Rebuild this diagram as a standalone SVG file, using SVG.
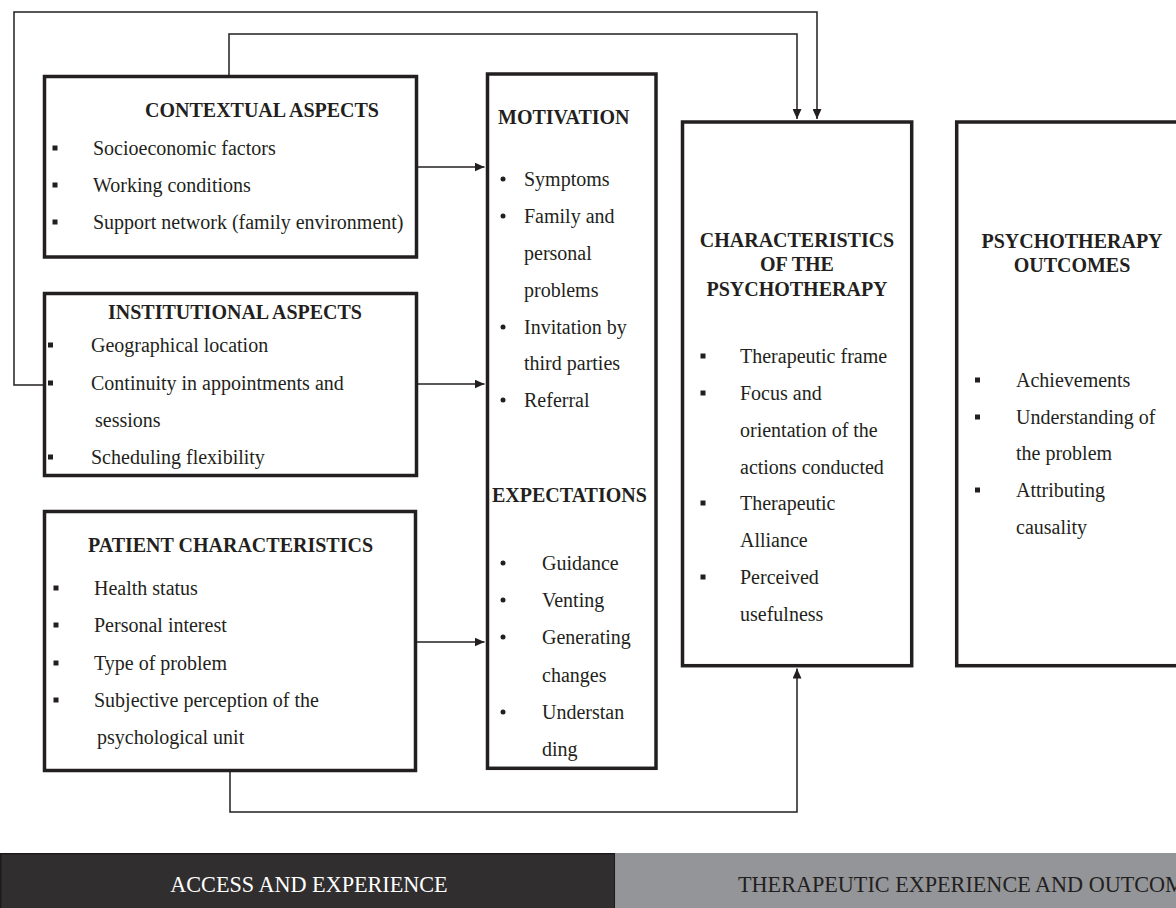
<svg xmlns="http://www.w3.org/2000/svg" width="1176" height="908" viewBox="0 0 1176 908">
<defs>
<marker id="arr" markerUnits="userSpaceOnUse" markerWidth="11" markerHeight="9" refX="10" refY="4.5" orient="auto">
<path d="M0,0 L10,4.5 L0,9 z" fill="#231f20"/>
</marker>
<style>
.box{fill:#fff;stroke:#231f20;stroke-width:3.5}
.t{font-family:"Liberation Serif","Times New Roman",serif;font-size:20px;fill:#231f20}
.h{font-family:"Liberation Serif","Times New Roman",serif;font-size:20px;font-weight:bold;fill:#231f20}
.c{text-anchor:middle}
.sq{fill:#231f20}
.dot{fill:#231f20}
.ln{fill:none;stroke:#231f20;stroke-width:1.5}
.band{font-family:"Liberation Serif","Times New Roman",serif;font-size:22.2px}
</style>
</defs>
<rect width="1176" height="908" fill="#fff"/>

<g id="connectors">
<path class="ln" d="M44,385 H14 V12 H817 V119" marker-end="url(#arr)"/>
<path class="ln" d="M229,76 V34 H797 V119" marker-end="url(#arr)"/>
<path class="ln" d="M418,167 H484.5" marker-end="url(#arr)"/>
<path class="ln" d="M418,384 H484.5" marker-end="url(#arr)"/>
<path class="ln" d="M417,642 H484.5" marker-end="url(#arr)"/>
<path class="ln" d="M230,772 V812 H797 V668.5" marker-end="url(#arr)"/>
</g>

<g id="contextual">
<rect class="box" x="44.5" y="76.5" width="372" height="180.5"/>
<text class="h c" x="262" y="116.5">CONTEXTUAL ASPECTS</text>
<rect class="sq" x="52.5" y="145.5" width="5" height="5"/>
<rect class="sq" x="52.5" y="182.5" width="5" height="5"/>
<rect class="sq" x="52.5" y="219.5" width="5" height="5"/>
<text class="t" x="93" y="154.5">Socioeconomic factors</text>
<text class="t" x="93" y="191.5">Working conditions</text>
<text class="t" x="93" y="228.5">Support network (family environment)</text>
</g>

<g id="institutional">
<rect class="box" x="44.5" y="293.5" width="372" height="182"/>
<text class="h c" x="235" y="318.5">INSTITUTIONAL ASPECTS</text>
<rect class="sq" x="48" y="342.5" width="5" height="5"/>
<rect class="sq" x="48" y="380.5" width="5" height="5"/>
<rect class="sq" x="48" y="454.5" width="5" height="5"/>
<text class="t" x="91" y="351.5">Geographical location</text>
<text class="t" x="91" y="389.5">Continuity in appointments and</text>
<text class="t" x="95" y="426.5">sessions</text>
<text class="t" x="91" y="463.5">Scheduling flexibility</text>
</g>

<g id="patient">
<rect class="box" x="44.5" y="511.5" width="371" height="259"/>
<text class="h c" x="230.5" y="551.5">PATIENT CHARACTERISTICS</text>
<rect class="sq" x="53.5" y="585.5" width="5" height="5"/>
<rect class="sq" x="53.5" y="622.5" width="5" height="5"/>
<rect class="sq" x="53.5" y="660.5" width="5" height="5"/>
<rect class="sq" x="53.5" y="697.5" width="5" height="5"/>
<text class="t" x="94" y="594.5">Health status</text>
<text class="t" x="94" y="631.5">Personal interest</text>
<text class="t" x="94" y="669.5">Type of problem</text>
<text class="t" x="94" y="706.5">Subjective perception of the</text>
<text class="t" x="97" y="743.5">psychological unit</text>
</g>

<g id="motivation-expectations">
<rect class="box" x="487.5" y="74" width="168.5" height="694.3"/>
<text class="h" x="498" y="123.5">MOTIVATION</text>
<circle class="dot" cx="503" cy="179" r="2.5"/>
<circle class="dot" cx="503" cy="216" r="2.5"/>
<circle class="dot" cx="503" cy="327" r="2.5"/>
<circle class="dot" cx="503" cy="400" r="2.5"/>
<text class="t" x="524" y="185.5">Symptoms</text>
<text class="t" x="524" y="222.5">Family and</text>
<text class="t" x="524" y="259.5">personal</text>
<text class="t" x="524" y="296.5">problems</text>
<text class="t" x="524" y="333.5">Invitation by</text>
<text class="t" x="524" y="369.5">third parties</text>
<text class="t" x="524" y="406.5">Referral</text>
<text class="h" x="492" y="501.5">EXPECTATIONS</text>
<circle class="dot" cx="503" cy="563" r="2.5"/>
<circle class="dot" cx="503" cy="600" r="2.5"/>
<circle class="dot" cx="503" cy="637" r="2.5"/>
<circle class="dot" cx="503" cy="712" r="2.5"/>
<text class="t" x="542" y="569.5">Guidance</text>
<text class="t" x="542" y="606.5">Venting</text>
<text class="t" x="542" y="643.5">Generating</text>
<text class="t" x="542" y="681.5">changes</text>
<text class="t" x="542" y="718.5">Understan</text>
<text class="t" x="542" y="755.5">ding</text>
</g>

<g id="characteristics">
<rect class="box" x="682.5" y="122" width="229.2" height="543.7"/>
<text class="h c" x="797" y="246.5">CHARACTERISTICS</text>
<text class="h c" x="797" y="271">OF THE</text>
<text class="h c" x="797" y="295.5">PSYCHOTHERAPY</text>
<rect class="sq" x="700.5" y="353.5" width="5" height="5"/>
<rect class="sq" x="700.5" y="390.5" width="5" height="5"/>
<rect class="sq" x="700.5" y="500.5" width="5" height="5"/>
<rect class="sq" x="700.5" y="574.5" width="5" height="5"/>
<text class="t" x="740" y="363">Therapeutic frame</text>
<text class="t" x="740" y="400">Focus and</text>
<text class="t" x="740" y="436.5">orientation of the</text>
<text class="t" x="740" y="473.5">actions conducted</text>
<text class="t" x="740" y="510">Therapeutic</text>
<text class="t" x="740" y="547">Alliance</text>
<text class="t" x="740" y="584">Perceived</text>
<text class="t" x="740" y="621">usefulness</text>
</g>

<g id="outcomes">
<rect class="box" x="956.7" y="122" width="240" height="543.7"/>
<text class="h c" x="1072" y="248">PSYCHOTHERAPY</text>
<text class="h c" x="1072" y="272">OUTCOMES</text>
<rect class="sq" x="975" y="377.5" width="5" height="5"/>
<rect class="sq" x="975" y="414.5" width="5" height="5"/>
<rect class="sq" x="975" y="487.5" width="5" height="5"/>
<text class="t" x="1016" y="386.5">Achievements</text>
<text class="t" x="1016" y="423.5">Understanding of</text>
<text class="t" x="1016" y="459.5">the problem</text>
<text class="t" x="1016" y="496.5">Attributing</text>
<text class="t" x="1016" y="533.5">causality</text>
</g>

<g id="band-access">
<rect x="0.75" y="853.75" width="614" height="55" fill="#302e2f" stroke="#1c1a1b" stroke-width="1.5"/>
<text class="band c" x="309" y="892" fill="#ffffff">ACCESS AND EXPERIENCE</text>
</g>
<g id="band-therapeutic">
<rect x="615.5" y="853" width="561" height="55" fill="#939598"/>
<text class="band" x="738" y="892" fill="#231f20">THERAPEUTIC EXPERIENCE AND OUTCOMES</text>
</g>
</svg>
